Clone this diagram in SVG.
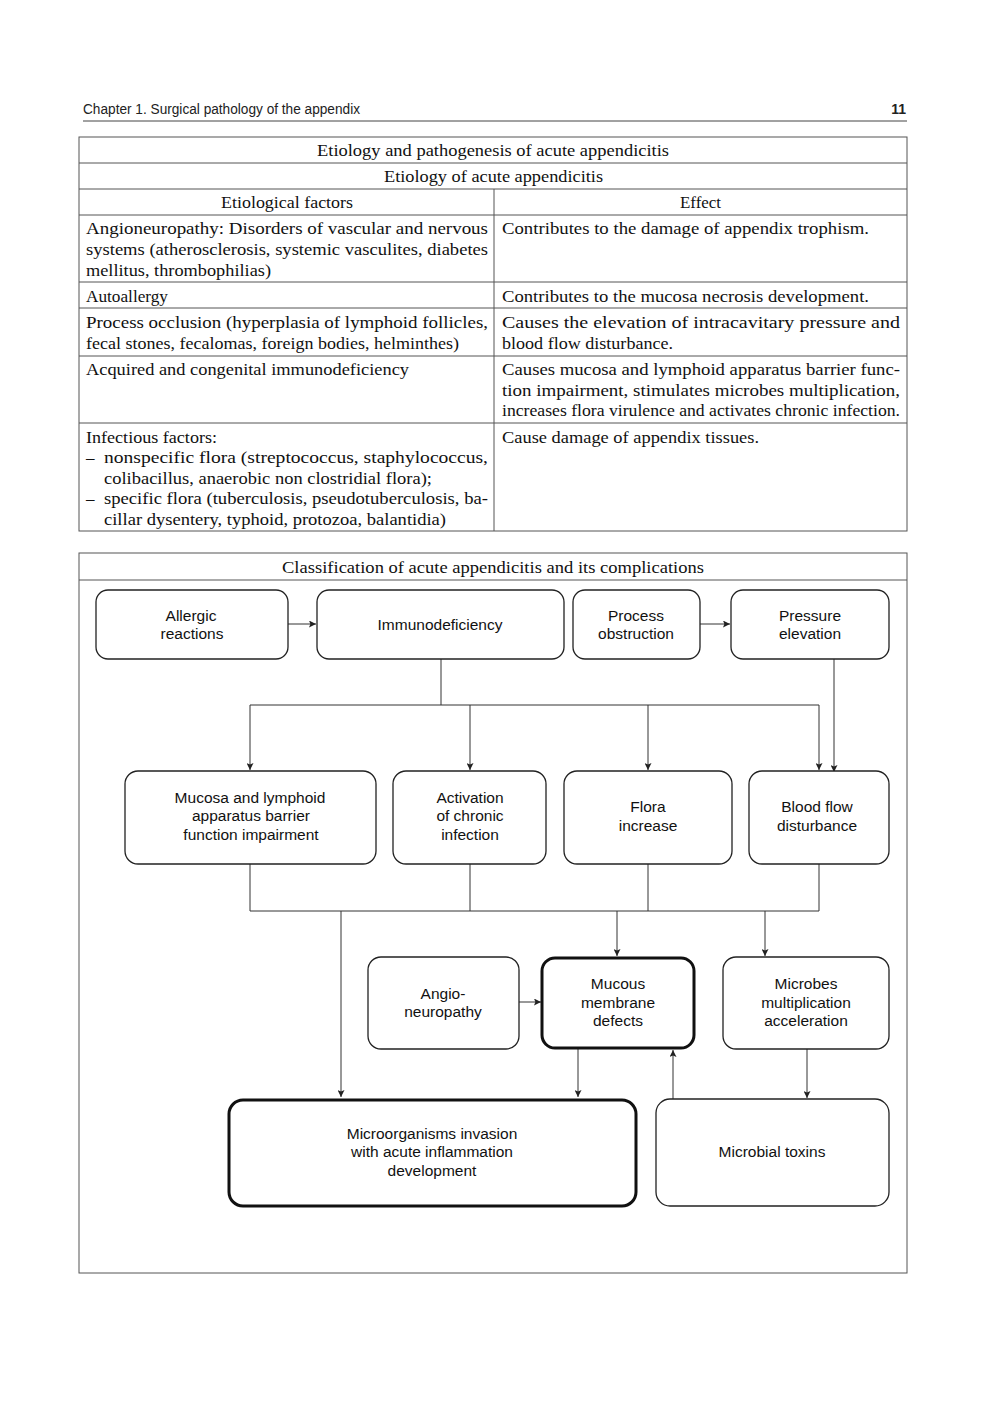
<svg xmlns="http://www.w3.org/2000/svg" width="1000" height="1415" viewBox="0 0 1000 1415">
<defs>
<marker id="ah" viewBox="0 0 10 10" refX="10" refY="5" markerWidth="9" markerHeight="7" markerUnits="userSpaceOnUse" orient="auto">
<path d="M0,0 L10,5 L0,10 L2,5 z" fill="#222"/>
</marker>
<style>
.hd{font-family:"Liberation Sans",Arial,sans-serif;font-size:14px;fill:#222}
.tb{font-family:"Liberation Serif","Times New Roman",serif;font-size:17px;fill:#111}
.tc{text-anchor:middle}
.grid{stroke:#555;stroke-width:1;fill:none}
.nd{fill:#fff;stroke:#222;stroke-width:1.3}
.ndb{fill:#fff;stroke:#111;stroke-width:3}
.nt{font-family:"Liberation Sans",Arial,sans-serif;font-size:15.5px;fill:#111;text-anchor:middle}
.cn{stroke:#333;stroke-width:1;fill:none}
.ca{stroke:#333;stroke-width:1;fill:none;marker-end:url(#ah)}
</style>
</defs>
<rect width="1000" height="1415" fill="#fff"/>

<g id="page-header">
<text class="hd" x="83" y="114" textLength="277" lengthAdjust="spacingAndGlyphs">Chapter 1. Surgical pathology of the appendix</text>
<text class="hd" x="906" y="114" text-anchor="end" font-weight="bold" font-size="14">11</text>
<line x1="83" y1="121" x2="907" y2="121" stroke="#444" stroke-width="1"/>
</g>

<g id="table">
<rect class="grid" x="79" y="137" width="828" height="394"/>
<line class="grid" x1="79" y1="163" x2="907" y2="163"/>
<line class="grid" x1="79" y1="189" x2="907" y2="189"/>
<line class="grid" x1="79" y1="215" x2="907" y2="215"/>
<line class="grid" x1="79" y1="282" x2="907" y2="282"/>
<line class="grid" x1="79" y1="308" x2="907" y2="308"/>
<line class="grid" x1="79" y1="356" x2="907" y2="356"/>
<line class="grid" x1="79" y1="423" x2="907" y2="423"/>
<line class="grid" x1="494" y1="189" x2="494" y2="531"/>

<text class="tb" x="317" y="156" textLength="352" lengthAdjust="spacingAndGlyphs">Etiology and pathogenesis of acute appendicitis</text>
<text class="tb" x="384" y="182" textLength="219" lengthAdjust="spacingAndGlyphs">Etiology of acute appendicitis</text>
<text class="tb" x="221" y="208" textLength="132" lengthAdjust="spacingAndGlyphs">Etiological factors</text>
<text class="tb" x="680" y="208" textLength="41" lengthAdjust="spacingAndGlyphs">Effect</text>

<text class="tb" x="86" y="234" textLength="402" lengthAdjust="spacingAndGlyphs">Angioneuropathy: Disorders of vascular and nervous</text>
<text class="tb" x="86" y="255" textLength="402" lengthAdjust="spacingAndGlyphs">systems (atherosclerosis, systemic vasculites, diabetes</text>
<text class="tb" x="86" y="276" textLength="185" lengthAdjust="spacingAndGlyphs">mellitus, thrombophilias)</text>
<text class="tb" x="502" y="234" textLength="367" lengthAdjust="spacingAndGlyphs">Contributes to the damage of appendix trophism.</text>

<text class="tb" x="86" y="302" textLength="82" lengthAdjust="spacingAndGlyphs">Autoallergy</text>
<text class="tb" x="502" y="302" textLength="367" lengthAdjust="spacingAndGlyphs">Contributes to the mucosa necrosis development.</text>

<text class="tb" x="86" y="328" textLength="402" lengthAdjust="spacingAndGlyphs">Process occlusion (hyperplasia of lymphoid follicles,</text>
<text class="tb" x="86" y="349" textLength="373" lengthAdjust="spacingAndGlyphs">fecal stones, fecalomas, foreign bodies, helminthes)</text>
<text class="tb" x="502" y="328" textLength="398" lengthAdjust="spacingAndGlyphs">Causes the elevation of intracavitary pressure and</text>
<text class="tb" x="502" y="349" textLength="171" lengthAdjust="spacingAndGlyphs">blood flow disturbance.</text>

<text class="tb" x="86" y="375" textLength="323" lengthAdjust="spacingAndGlyphs">Acquired and congenital immunodeficiency</text>
<text class="tb" x="502" y="375" textLength="398" lengthAdjust="spacingAndGlyphs">Causes mucosa and lymphoid apparatus barrier func-</text>
<text class="tb" x="502" y="396" textLength="398" lengthAdjust="spacingAndGlyphs">tion impairment, stimulates microbes multiplication,</text>
<text class="tb" x="502" y="416" textLength="398" lengthAdjust="spacingAndGlyphs">increases flora virulence and activates chronic infection.</text>

<text class="tb" x="86" y="443" textLength="131" lengthAdjust="spacingAndGlyphs">Infectious factors:</text>
<text class="tb" x="86" y="463">–</text>
<text class="tb" x="104" y="463" textLength="384" lengthAdjust="spacingAndGlyphs">nonspecific flora (streptococcus, staphylococcus,</text>
<text class="tb" x="104" y="484" textLength="328" lengthAdjust="spacingAndGlyphs">colibacillus, anaerobic non clostridial flora);</text>
<text class="tb" x="86" y="504">–</text>
<text class="tb" x="104" y="504" textLength="384" lengthAdjust="spacingAndGlyphs">specific flora (tuberculosis, pseudotuberculosis, ba-</text>
<text class="tb" x="104" y="525" textLength="342" lengthAdjust="spacingAndGlyphs">cillar dysentery, typhoid, protozoa, balantidia)</text>
<text class="tb" x="502" y="443" textLength="257" lengthAdjust="spacingAndGlyphs">Cause damage of appendix tissues.</text>
</g>

<g id="diagram-frame">
<rect class="grid" x="79" y="553" width="828" height="720"/>
<line class="grid" x1="79" y1="580" x2="907" y2="580"/>
<text class="tb" x="282" y="573" textLength="422" lengthAdjust="spacingAndGlyphs">Classification of acute appendicitis and its complications</text>
</g>

<g id="connectors">
<line class="ca" x1="288" y1="624" x2="316" y2="624"/>
<line class="ca" x1="700" y1="624" x2="730" y2="624"/>
<polyline class="cn" points="441,659 441,705"/>
<line class="cn" x1="250" y1="705" x2="819" y2="705"/>
<line class="ca" x1="250" y1="705" x2="250" y2="770"/>
<line class="ca" x1="470" y1="705" x2="470" y2="770"/>
<line class="ca" x1="648" y1="705" x2="648" y2="770"/>
<line class="ca" x1="819" y1="705" x2="819" y2="770"/>
<line class="ca" x1="834" y1="659" x2="834" y2="772"/>
<line class="cn" x1="250" y1="864" x2="250" y2="911"/>
<line class="cn" x1="470" y1="864" x2="470" y2="911"/>
<line class="cn" x1="648" y1="864" x2="648" y2="911"/>
<line class="cn" x1="819" y1="864" x2="819" y2="911"/>
<line class="cn" x1="250" y1="911" x2="819" y2="911"/>
<line class="ca" x1="341" y1="911" x2="341" y2="1097"/>
<line class="ca" x1="617" y1="911" x2="617" y2="956"/>
<line class="ca" x1="765" y1="911" x2="765" y2="956"/>
<line class="ca" x1="519" y1="1002" x2="541" y2="1002"/>
<line class="ca" x1="578" y1="1049" x2="578" y2="1097"/>
<line class="ca" x1="673" y1="1099" x2="673" y2="1050"/>
<line class="ca" x1="807" y1="1049" x2="807" y2="1098"/>
</g>

<g id="n-allergic">
<rect class="nd" x="96" y="590" width="192" height="69" rx="12"/>
<text class="nt" x="191" y="621">Allergic</text>
<text class="nt" x="192" y="639">reactions</text>
</g>
<g id="n-immuno">
<rect class="nd" x="317" y="590" width="247" height="69" rx="12"/>
<text class="nt" x="440" y="630">Immunodeficiency</text>
</g>
<g id="n-process">
<rect class="nd" x="573" y="590" width="127" height="69" rx="12"/>
<text class="nt" x="636" y="621">Process</text>
<text class="nt" x="636" y="639">obstruction</text>
</g>
<g id="n-pressure">
<rect class="nd" x="731" y="590" width="158" height="69" rx="12"/>
<text class="nt" x="810" y="621">Pressure</text>
<text class="nt" x="810" y="639">elevation</text>
</g>

<g id="n-mucosa">
<rect class="nd" x="125" y="771" width="251" height="93" rx="13"/>
<text class="nt" x="250" y="803">Mucosa and lymphoid</text>
<text class="nt" x="251" y="821">apparatus barrier</text>
<text class="nt" x="251" y="840">function impairment</text>
</g>
<g id="n-activation">
<rect class="nd" x="393" y="771" width="153" height="93" rx="13"/>
<text class="nt" x="470" y="803">Activation</text>
<text class="nt" x="470" y="821">of chronic</text>
<text class="nt" x="470" y="840">infection</text>
</g>
<g id="n-flora">
<rect class="nd" x="564" y="771" width="168" height="93" rx="13"/>
<text class="nt" x="648" y="812">Flora</text>
<text class="nt" x="648" y="831">increase</text>
</g>
<g id="n-bloodflow">
<rect class="nd" x="749" y="771" width="140" height="93" rx="13"/>
<text class="nt" x="817" y="812">Blood flow</text>
<text class="nt" x="817" y="831">disturbance</text>
</g>

<g id="n-angio">
<rect class="nd" x="368" y="957" width="151" height="92" rx="13"/>
<text class="nt" x="443" y="999">Angio-</text>
<text class="nt" x="443" y="1017">neuropathy</text>
</g>
<g id="n-mucous">
<rect class="ndb" x="542" y="958" width="152" height="90" rx="13"/>
<text class="nt" x="618" y="989">Mucous</text>
<text class="nt" x="618" y="1008">membrane</text>
<text class="nt" x="618" y="1026">defects</text>
</g>
<g id="n-microbes">
<rect class="nd" x="723" y="957" width="166" height="92" rx="13"/>
<text class="nt" x="806" y="989">Microbes</text>
<text class="nt" x="806" y="1008">multiplication</text>
<text class="nt" x="806" y="1026">acceleration</text>
</g>

<g id="n-invasion">
<rect class="ndb" x="229" y="1100" width="407" height="106" rx="14"/>
<text class="nt" x="432" y="1139">Microorganisms invasion</text>
<text class="nt" x="432" y="1157">with acute inflammation</text>
<text class="nt" x="432" y="1176">development</text>
</g>
<g id="n-toxins">
<rect class="nd" x="656" y="1099" width="233" height="107" rx="14"/>
<text class="nt" x="772" y="1157">Microbial toxins</text>
</g>
</svg>
